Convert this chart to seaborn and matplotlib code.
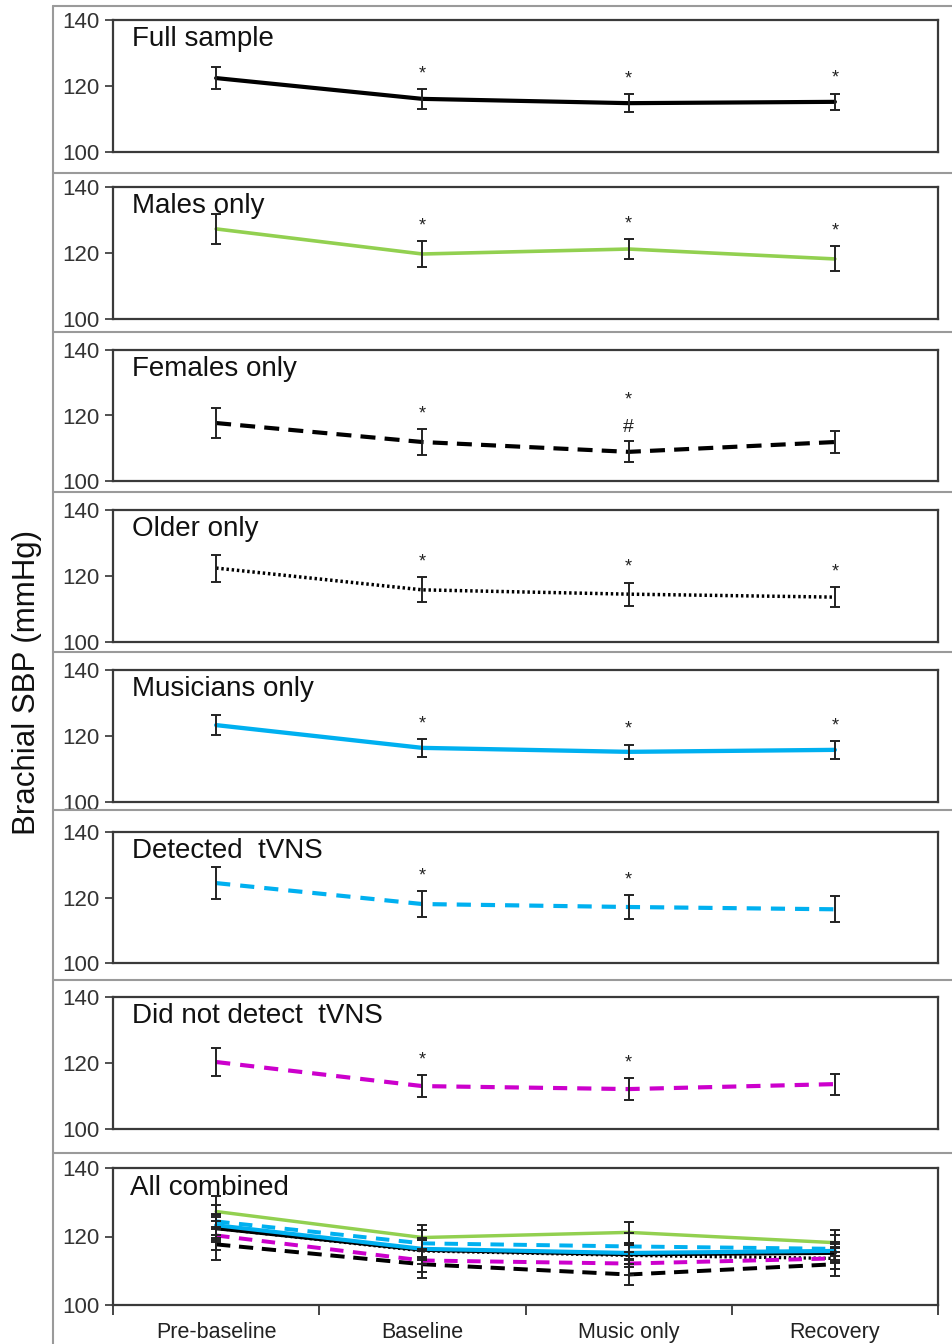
import numpy as np
import matplotlib
matplotlib.use('Agg')
import matplotlib.pyplot as plt
from matplotlib.lines import Line2D
import seaborn as sns

phases = ['Pre-baseline', 'Baseline', 'Music only', 'Recovery']

panel_names = ['Full sample', 'Males only', 'Females only', 'Older only',
               'Musicians only', 'Detected  tVNS', 'Did not detect  tVNS']

full_mean = [122.4, 116.1, 114.8, 115.2]
full_err = [3.3, 3.0, 2.7, 2.5]
full_sig = ['', '*', '*', '*']

males_mean = [127.3, 119.7, 121.2, 118.2]
males_err = [4.5, 3.8, 3.0, 3.8]
males_sig = ['', '*', '*', '*']

females_mean = [117.7, 111.9, 108.9, 111.9]
females_err = [4.6, 3.9, 3.2, 3.5]
females_sig = ['', '*', '*#', '']

older_mean = [122.4, 115.8, 114.5, 113.6]
older_err = [4.1, 3.8, 3.5, 3.0]
older_sig = ['', '*', '*', '*']

musicians_mean = [123.3, 116.4, 115.2, 115.8]
musicians_err = [3.0, 2.7, 2.2, 2.7]
musicians_sig = ['', '*', '*', '*']

detected_mean = [124.4, 118.0, 117.1, 116.4]
detected_err = [4.9, 4.0, 3.8, 4.0]
detected_sig = ['', '*', '*', '']

notdetected_mean = [120.3, 113.0, 112.1, 113.6]
notdetected_err = [4.2, 3.4, 3.3, 3.2]
notdetected_sig = ['', '*', '*', '']

means = [full_mean, males_mean, females_mean, older_mean,
         musicians_mean, detected_mean, notdetected_mean]
errs = [full_err, males_err, females_err, older_err,
        musicians_err, detected_err, notdetected_err]
sigs = [full_sig, males_sig, females_sig, older_sig,
        musicians_sig, detected_sig, notdetected_sig]

colors = ['black', '#92D050', 'black', 'black', '#00B0F0', '#00B0F0', '#CC00CC']
styles = ['-', '-', (0, (3.6, 2.2)), (0, (0.7, 0.8)), '-', (0, (3.4, 2.4)), (0, (3.4, 2.4))]
widths = [3.0, 2.6, 3.0, 2.5, 3.1, 3.0, 3.0]

sns.set_style('white')
plt.rcParams['font.family'] = ['Liberation Sans', 'DejaVu Sans']

W, H = 952, 1344
fig = plt.figure(figsize=(W / 100, H / 100), dpi=100)

# axes boxes in pixels (top, bottom)
boxes = [(20, 152), (187, 319), (350, 481), (510, 642), (670, 802),
         (832, 963), (997, 1129), (1168, 1305)]
x_left, x_right = 113, 938
x = np.arange(len(phases))


def make_axes(top, bottom):
    ax = fig.add_axes([x_left / W, 1 - bottom / H, (x_right - x_left) / W, (bottom - top) / H])
    ax.set_xlim(-0.5, len(phases) - 0.5)
    ax.set_ylim(100, 140)
    ax.set_yticks([100, 120, 140])
    ax.tick_params(axis='y', direction='out', length=6, width=1.2, pad=4,
                   labelsize=16, colors='#333333', left=True)
    ax.set_xticks([])
    for s in ax.spines.values():
        s.set_color('#3a3a3a')
        s.set_linewidth(1.6)
    ax.set_xlabel('')
    ax.set_ylabel('')
    return ax


def draw_series(ax, mean, err, color, ls, lw):
    sns.lineplot(x=x, y=mean, ax=ax, color=color, linestyle=ls, linewidth=lw)
    ax.errorbar(x, mean, yerr=err, fmt='none', ecolor='#222222', elinewidth=1.4,
                capsize=3.4, capthick=1.4, zorder=3)


for i in range(7):
    top, bottom = boxes[i]
    ax = make_axes(top, bottom)
    draw_series(ax, means[i], errs[i], colors[i], styles[i], widths[i])
    for j, mark in enumerate(sigs[i]):
        y0 = means[i][j] + errs[i][j]
        if mark == '*':
            ax.text(x[j], y0 + 4.6, '*', ha='center', va='center', fontsize=13, color='#222222')
        elif mark == '*#':
            ax.text(x[j], y0 + 4.2, '#', ha='center', va='center', fontsize=14, color='#222222')
            ax.text(x[j], y0 + 12.6, '*', ha='center', va='center', fontsize=13, color='#222222')
    ax.text(0.023, 0.80, panel_names[i], transform=ax.transAxes, fontsize=20,
            ha='left', va='baseline', color='#111111')
    ax.set_xlabel('')
    ax.set_ylabel('')

# combined panel
top, bottom = boxes[7]
ax = make_axes(top, bottom)
for i in range(7):
    draw_series(ax, means[i], errs[i], colors[i], styles[i], widths[i] * 0.95)
ax.set_xticks(np.arange(len(phases) + 1) - 0.5)
ax.set_xticklabels([])
ax.tick_params(axis='x', which='major', direction='out', length=7, width=1.2, bottom=True)
ax.set_xticks(x, minor=True)
ax.set_xticklabels(phases, minor=True, fontsize=15.5, color='#222222')
ax.tick_params(axis='x', which='minor', length=0, pad=12)
ax.text(0.02, 0.80, 'All combined', transform=ax.transAxes, fontsize=20,
        ha='left', va='baseline', color='#111111')
ax.set_xlabel('')
ax.set_ylabel('')

# outer frame lines between the stacked panels
for yy in [6, 173, 332, 492, 652, 810, 980, 1153]:
    fig.add_artist(Line2D([53 / W, 1], [1 - yy / H, 1 - yy / H], color='#9a9a9a', lw=1.5))
fig.add_artist(Line2D([53 / W, 53 / W], [0, 1 - 6 / H], color='#9a9a9a', lw=1.5))

fig.text(27 / W, 1 - 682 / H, 'Brachial SBP (mmHg)', rotation=90, fontsize=22.5,
         ha='center', va='center', color='#111111')

fig.savefig('out.png', dpi=100)
